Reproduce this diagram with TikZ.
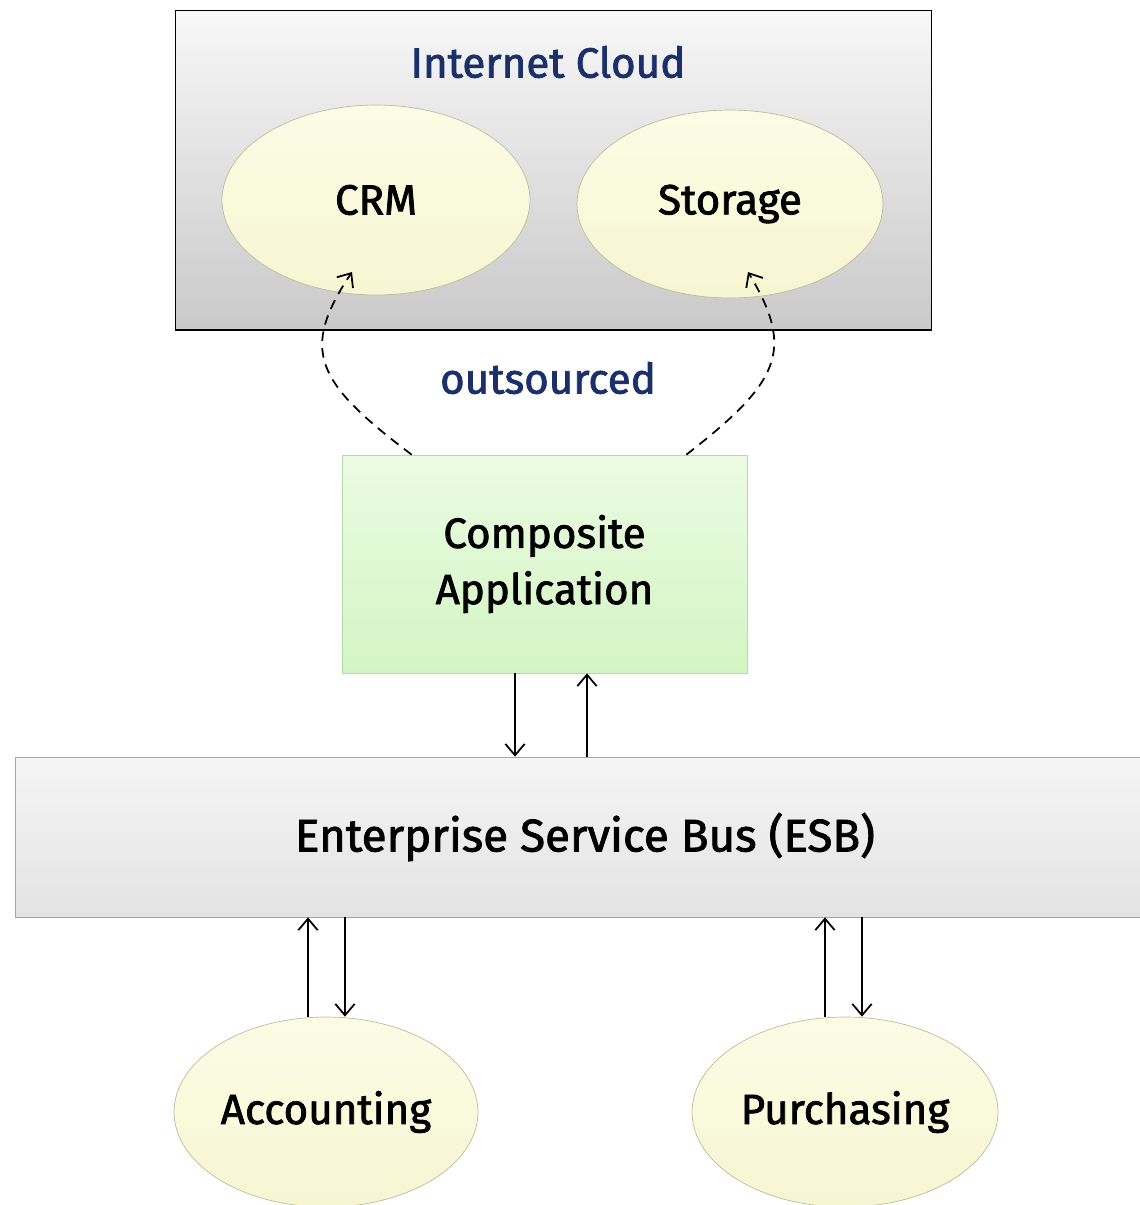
\documentclass[tikz,border=0pt]{standalone}
\usepackage{fontspec}
\setmainfont{Fira Sans}[FakeBold=1.8]
\usetikzlibrary{arrows.meta,shapes.geometric}
\definecolor{navy}{HTML}{1B2F6B}
\definecolor{bubtop}{HTML}{FCFCE6}
\definecolor{bubbot}{HTML}{F6F6D2}
\definecolor{bubline}{HTML}{BDBD9C}
\definecolor{apptop}{HTML}{EBFBE3}
\definecolor{appbot}{HTML}{D3F5C3}
\definecolor{appline}{HTML}{B8D8AA}
\begin{document}
\begin{tikzpicture}[x=0.02cm, y=-0.02cm, >={Straight Barb[length=6.5pt,width=11pt]},
  lbl/.style={font=\fontsize{24}{32}\selectfont},
  bubble/.style={ellipse, draw=bubline, top color=bubtop, bottom color=bubbot, inner sep=0pt, lbl},
  link/.style={line width=1pt}]
\useasboundingbox (0,0) rectangle (1140,1205);
\clip (0,0) rectangle (1140,1205);

% cloud
\node[draw=black, line width=0.6pt, top color=gray!6, bottom color=gray!42,
  minimum width=15.14cm, minimum height=6.4cm] (cloud) at (553.5,170) {};
\node[lbl, text=navy] (cloudtxt) at (548,62) {Internet Cloud};
\node[bubble, minimum width=6.16cm, minimum height=3.8cm] (crm) at (376,200) {CRM};
\node[bubble, minimum width=6.12cm, minimum height=3.76cm] (sto) at (730,204) {Storage};

\node[lbl, text=navy] (outs) at (548,378) {outsourced};

\node[draw=appline, top color=apptop, bottom color=appbot, lbl, align=center,
  minimum width=8.1cm, minimum height=4.36cm] (comp) at (544.5,564) {Composite\\Application};

% bus
\node[draw=gray!70, top color=gray!8, bottom color=gray!22,
  minimum width=23cm, minimum height=3.2cm] (esb) at (590,837) {};
\node[font=\fontsize{26}{32}\selectfont] (esbtxt) at (585,837) {Enterprise Service Bus (ESB)};

\node[bubble, minimum width=6.08cm, minimum height=3.8cm] (acc) at (326,1112) {Accounting};
\node[bubble, minimum width=6.12cm, minimum height=3.8cm] (pur) at (845,1112) {Purchasing};

% outsourced links
\coordinate (ol) at ([xshift=1.4cm]comp.north west);
\coordinate (or) at ([xshift=-1.22cm]comp.north east);
\coordinate (tl) at ([shift={(-0.48cm,-1.44cm)}]crm.center);
\coordinate (tr) at ([shift={(0.36cm,-1.36cm)}]sto.center);
\draw[->, link, dash pattern=on 5.5pt off 4pt] (ol) .. controls +(-97,-73) and +(-52,78) .. (tl);
\draw[->, link, dash pattern=on 5.5pt off 4pt] (or) .. controls +(94,-73) and +(47,78) .. (tr);

% composite <-> bus
\coordinate (cd) at ([xshift=-0.59cm]comp.south);
\coordinate (cu) at ([xshift=0.85cm]comp.south);
\draw[->, link] (cd) -- (cd |- esb.north);
\draw[<-, link] (cu) -- (cu |- esb.north);

\foreach \nd/\a/\b in {acc/-0.36/0.38, pur/-0.4/0.34}
{
    \coordinate (\nd up) at ([xshift=\a cm]\nd.north);
    \coordinate (\nd dn) at ([xshift=\b cm]\nd.north);
    \draw[->, link] (\nd up) -- (\nd up |- esb.south);
    \draw[<-, link] (\nd dn) -- (\nd dn |- esb.south);
}
\end{tikzpicture}
\end{document}
